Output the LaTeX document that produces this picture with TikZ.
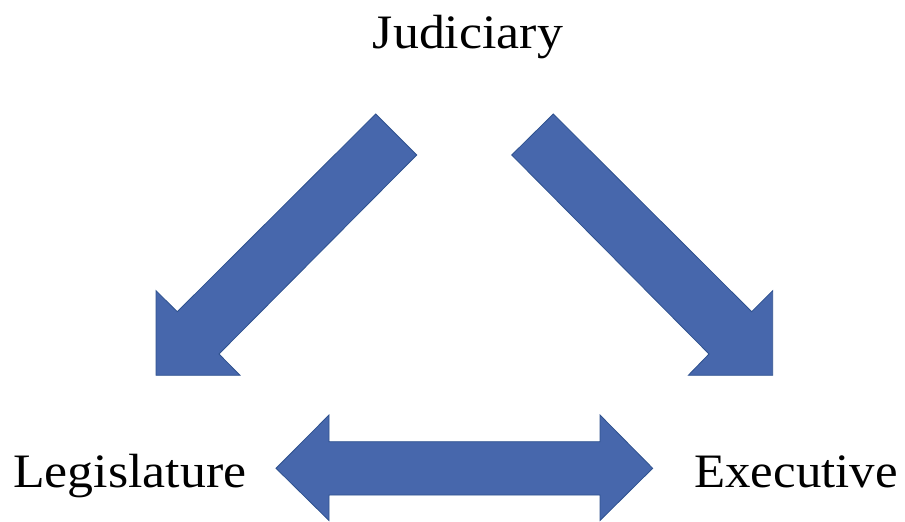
\documentclass[tikz,border=0pt]{standalone}
\usepackage{fontspec}
\setmainfont{Liberation Serif}
\begin{document}
\begin{tikzpicture}[x=1pt,y=-1pt,
  blockarrow/.style={fill=arrowfill,draw=arrowline,line width=0.8pt,line join=miter},
  label/.style={anchor=base,inner sep=0pt,font=\fontsize{48}{56}\selectfont}]
\definecolor{arrowfill}{HTML}{4767AC}
\definecolor{arrowline}{HTML}{2F528F}
\useasboundingbox (0,0) rectangle (905,522);
\node[label] (jud) at (468,48) {\scalebox{1.08}[1]{Judiciary}};
\node[label] (leg) at (129.7,487) {\scalebox{1.08}[1]{Legislature}};
\node[label] (exe) at (796,487) {\scalebox{1.06}[1]{Executive}};
% left diagonal arrow (Judiciary -> Legislature)
\draw[blockarrow] (375.7,114) -- (416.7,155) -- (219,354) -- (240,375.3)
  -- (156,375.3) -- (156,290.7) -- (177.3,311.7) -- cycle;
% right diagonal arrow (Judiciary -> Executive)
\draw[blockarrow] (553.3,114) -- (511.7,155) -- (709,354) -- (688.3,375.3)
  -- (772.7,375.3) -- (772.7,290.7) -- (751.7,311.7) -- cycle;
% double arrow (Legislature <-> Executive)
\draw[blockarrow] (276,468.3) -- (329,415) -- (329,441.7) -- (600,441.7)
  -- (600,415) -- (652.7,468.3) -- (600,520.5) -- (600,495) -- (329,495)
  -- (329,520.5) -- cycle;
\end{tikzpicture}
\end{document}
